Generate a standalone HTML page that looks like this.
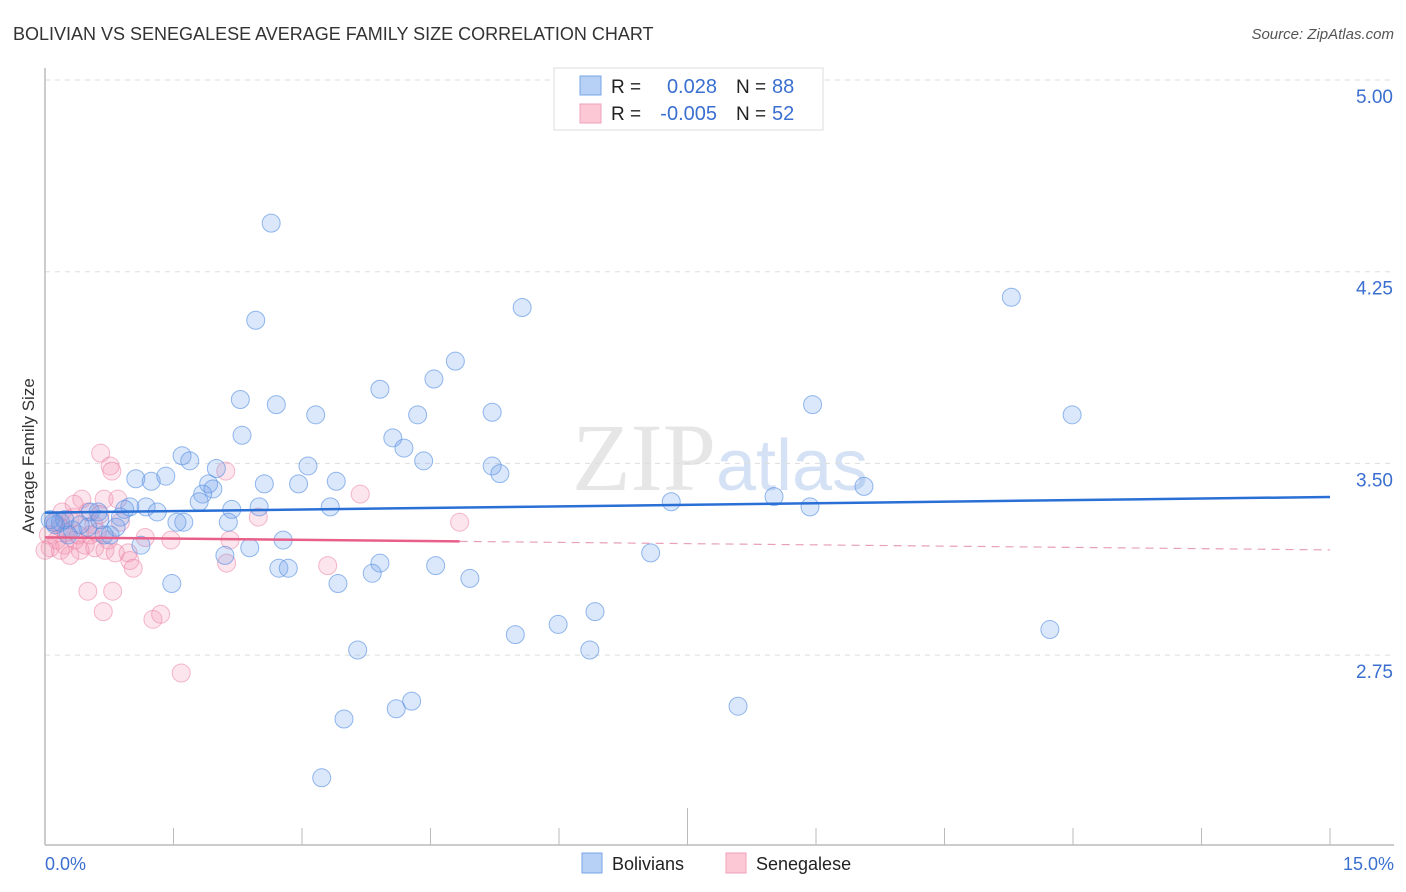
<!DOCTYPE html>
<html><head><meta charset="utf-8"><style>
body{margin:0;background:#fff;font-family:"Liberation Sans",sans-serif}
svg{display:block}
</style></head><body>
<svg id="chart" width="1406" height="892" xmlns="http://www.w3.org/2000/svg" font-family="Liberation Sans, sans-serif">
<text x="13" y="40" font-size="18" fill="#333">BOLIVIAN VS SENEGALESE AVERAGE FAMILY SIZE CORRELATION CHART</text>
<text x="1394" y="39" font-size="15" fill="#555" text-anchor="end" font-style="italic">Source: ZipAtlas.com</text>
<text x="720" y="490" font-size="96" fill="#e6e6e6" text-anchor="middle" font-family="Liberation Serif, serif">ZIP<tspan fill="#d5e2f5" font-family="Liberation Sans, sans-serif" font-size="72">atlas</tspan></text>
<g id="grid"></g>
<g id="axes"></g>
<g id="points"></g>
<g id="lines"></g>
<text transform="translate(34,456) rotate(-90)" font-size="17" fill="#333" text-anchor="middle">Average Family Size</text>
<g>
<rect x="554" y="68" width="269" height="62" fill="#fff" stroke="#ddd"/>
<rect x="580" y="76" width="21" height="19" fill="#b7d0f5" stroke="#7aa6e6"/>
<rect x="580" y="104" width="21" height="19" fill="#fcc8d6" stroke="#eea0b8"/>
<text x="611" y="93" font-size="19" fill="#222">R = </text>
<text x="717" y="93" font-size="20" fill="#3a6fd0" text-anchor="end">0.028</text>
<text x="736" y="93" font-size="19" fill="#222">N = </text><text x="772" y="93" font-size="20" fill="#3a6fd0">88</text>
<text x="611" y="120" font-size="19" fill="#222">R = </text>
<text x="717" y="120" font-size="20" fill="#3a6fd0" text-anchor="end">-0.005</text>
<text x="736" y="120" font-size="19" fill="#222">N = </text><text x="772" y="120" font-size="20" fill="#3a6fd0">52</text>
</g>
<g>
<rect x="582" y="853" width="20" height="20" fill="#b7d0f5" stroke="#7aa6e6"/>
<text x="612" y="870" font-size="18" fill="#222">Bolivians</text>
<rect x="726" y="853" width="20" height="20" fill="#fcc8d6" stroke="#eea0b8"/>
<text x="756" y="870" font-size="18" fill="#222">Senegalese</text>
</g>
<text x="45" y="870" font-size="18" fill="#3a6fd0">0.0%</text>
<text x="1394" y="870" font-size="18" fill="#3a6fd0" text-anchor="end">15.0%</text>
</svg>
<script>
const yTicks=[5.00,4.25,3.50,2.75];
const yTickLabels=["5.00","4.25","3.50","2.75"];
const boliviansX=[2.64,2.46,5.57,11.28,4.79,4.54,3.91,2.28,2.70,3.16,4.35,5.22,8.96,11.99,2.30,4.06,4.19,1.60,1.69,2.00,4.42,5.22,3.07,5.31,1.06,1.24,1.41,2.56,3.40,2.96,1.91,1.96,1.84,1.80,7.31,8.51,9.56,8.93,3.33,2.50,2.18,1.18,0.99,0.93,1.31,0.53,0.62,0.88,1.62,1.54,2.14,0.83,0.50,0.18,0.12,0.32,0.76,0.69,1.12,2.39,2.78,7.07,2.10,3.91,4.56,2.73,2.84,3.82,4.96,3.42,1.48,6.42,5.99,5.49,11.73,6.36,3.65,4.28,4.10,8.09,3.49,3.23,0.06,0.23,0.41,0.64,0.27,0.10];
const boliviansY=[4.44,4.06,4.11,4.15,3.90,3.83,3.79,3.75,3.73,3.69,3.69,3.70,3.73,3.69,3.61,3.60,3.56,3.53,3.51,3.48,3.51,3.49,3.49,3.46,3.44,3.43,3.45,3.42,3.43,3.42,3.42,3.40,3.38,3.35,3.35,3.37,3.41,3.33,3.33,3.33,3.32,3.33,3.33,3.32,3.31,3.31,3.31,3.29,3.27,3.27,3.27,3.25,3.25,3.27,3.26,3.24,3.22,3.22,3.18,3.17,3.20,3.15,3.14,3.11,3.10,3.09,3.09,3.07,3.05,3.03,3.03,2.92,2.87,2.83,2.85,2.77,2.77,2.57,2.54,2.55,2.50,2.27,3.28,3.28,3.26,3.28,3.22,3.27];
const senegaleseX=[0.65,0.76,0.78,2.11,3.68,0.43,0.69,0.50,0.64,4.84,2.49,0.29,0.12,0.18,0.34,0.88,1.17,1.47,2.16,0.06,0.14,0.23,0.35,0.47,0.58,0.70,0.82,0.97,0.18,0.99,1.03,2.12,3.30,0.50,0.79,0.68,1.26,1.35,1.59,0.57,0.25,0.04,0.39,0.53,0.74,0.41,0.00,0.29,0.61,0.20,0.34,0.85];
const senegaleseY=[3.54,3.49,3.47,3.47,3.38,3.36,3.36,3.31,3.30,3.27,3.29,3.28,3.27,3.25,3.29,3.27,3.21,3.20,3.20,3.17,3.20,3.18,3.20,3.18,3.17,3.16,3.15,3.15,3.16,3.12,3.09,3.11,3.10,3.00,3.00,2.92,2.89,2.91,2.68,3.26,3.23,3.22,3.22,3.22,3.20,3.16,3.16,3.14,3.23,3.31,3.34,3.36];
const NS="http://www.w3.org/2000/svg";
const X=v=>45+v/15*1285;
const Y=v=>80+(5-v)*255.6;
function mk(tag,attrs,parent){const e=document.createElementNS(NS,tag);for(const k in attrs)e.setAttribute(k,attrs[k]);parent.appendChild(e);return e;}
const grid=document.getElementById('grid'),axes=document.getElementById('axes'),pts=document.getElementById('points'),lines=document.getElementById('lines');
yTicks.forEach((t,i)=>{
 const l=mk('line',{x1:45,x2:1394,y1:Y(t),y2:Y(t),stroke:'#ddd','stroke-dasharray':'5,5'},grid);
 
 
 const tx=mk('text',{x:1393,y:Y(t)+23,'font-size':19,fill:'#3a6fd0','text-anchor':'end'},grid);
 tx.textContent=yTickLabels[i];
 
 
});
const ya=mk('line',{x1:45,x2:45,y1:68,y2:845,stroke:'#bbb','stroke-width':1.5},axes);


const xa=mk('line',{x1:45,x2:1394,y1:845,y2:845,stroke:'#bbb','stroke-width':1.5},axes);


for(let i=1;i<=10;i++){
 const tk=mk('line',{x1:X(i*1.5),x2:X(i*1.5),y1:i==5?808:828,y2:845,stroke:'#bbb'},axes);
 
 
}
function draw(xs,ys,fill,stroke,name){
 xs.forEach((x,i)=>{
  const c=mk('circle',{cx:X(x),cy:Y(ys[i]),r:9,fill:fill,stroke:stroke,'stroke-width':1},pts);
  
  
 });
}
draw(senegaleseX,senegaleseY,'rgba(245,150,180,0.25)','rgba(235,130,165,0.55)','senegalese-point');
draw(boliviansX,boliviansY,'rgba(110,160,235,0.25)','rgba(80,140,225,0.6)','bolivian-point');
function fit(xs,ys){const n=xs.length;let mx=0,my=0;xs.forEach((x,i)=>{mx+=x;my+=ys[i]});mx/=n;my/=n;let sxy=0,sxx=0;xs.forEach((x,i)=>{sxy+=(x-mx)*(ys[i]-my);sxx+=(x-mx)**2});const b=sxy/sxx;return[my-b*mx,b];}
const [ab,bb]=fit(boliviansX,boliviansY);
const bl=mk('line',{x1:X(0),y1:Y(ab),x2:X(15),y2:Y(ab+bb*15),stroke:'#2a6fd6','stroke-width':2.5},lines);


const [as,bs]=fit(senegaleseX,senegaleseY);
const xmaxS=Math.max(...senegaleseX);
const sl=mk('line',{x1:X(0),y1:Y(as),x2:X(xmaxS),y2:Y(as+bs*xmaxS),stroke:'#e8608a','stroke-width':2.5},lines);


const sd=mk('line',{x1:X(xmaxS),y1:Y(as+bs*xmaxS),x2:X(15),y2:Y(as+bs*15),stroke:'#e8a0b8','stroke-width':1.2,'stroke-dasharray':'8,6'},lines);


</script>
</body></html>
